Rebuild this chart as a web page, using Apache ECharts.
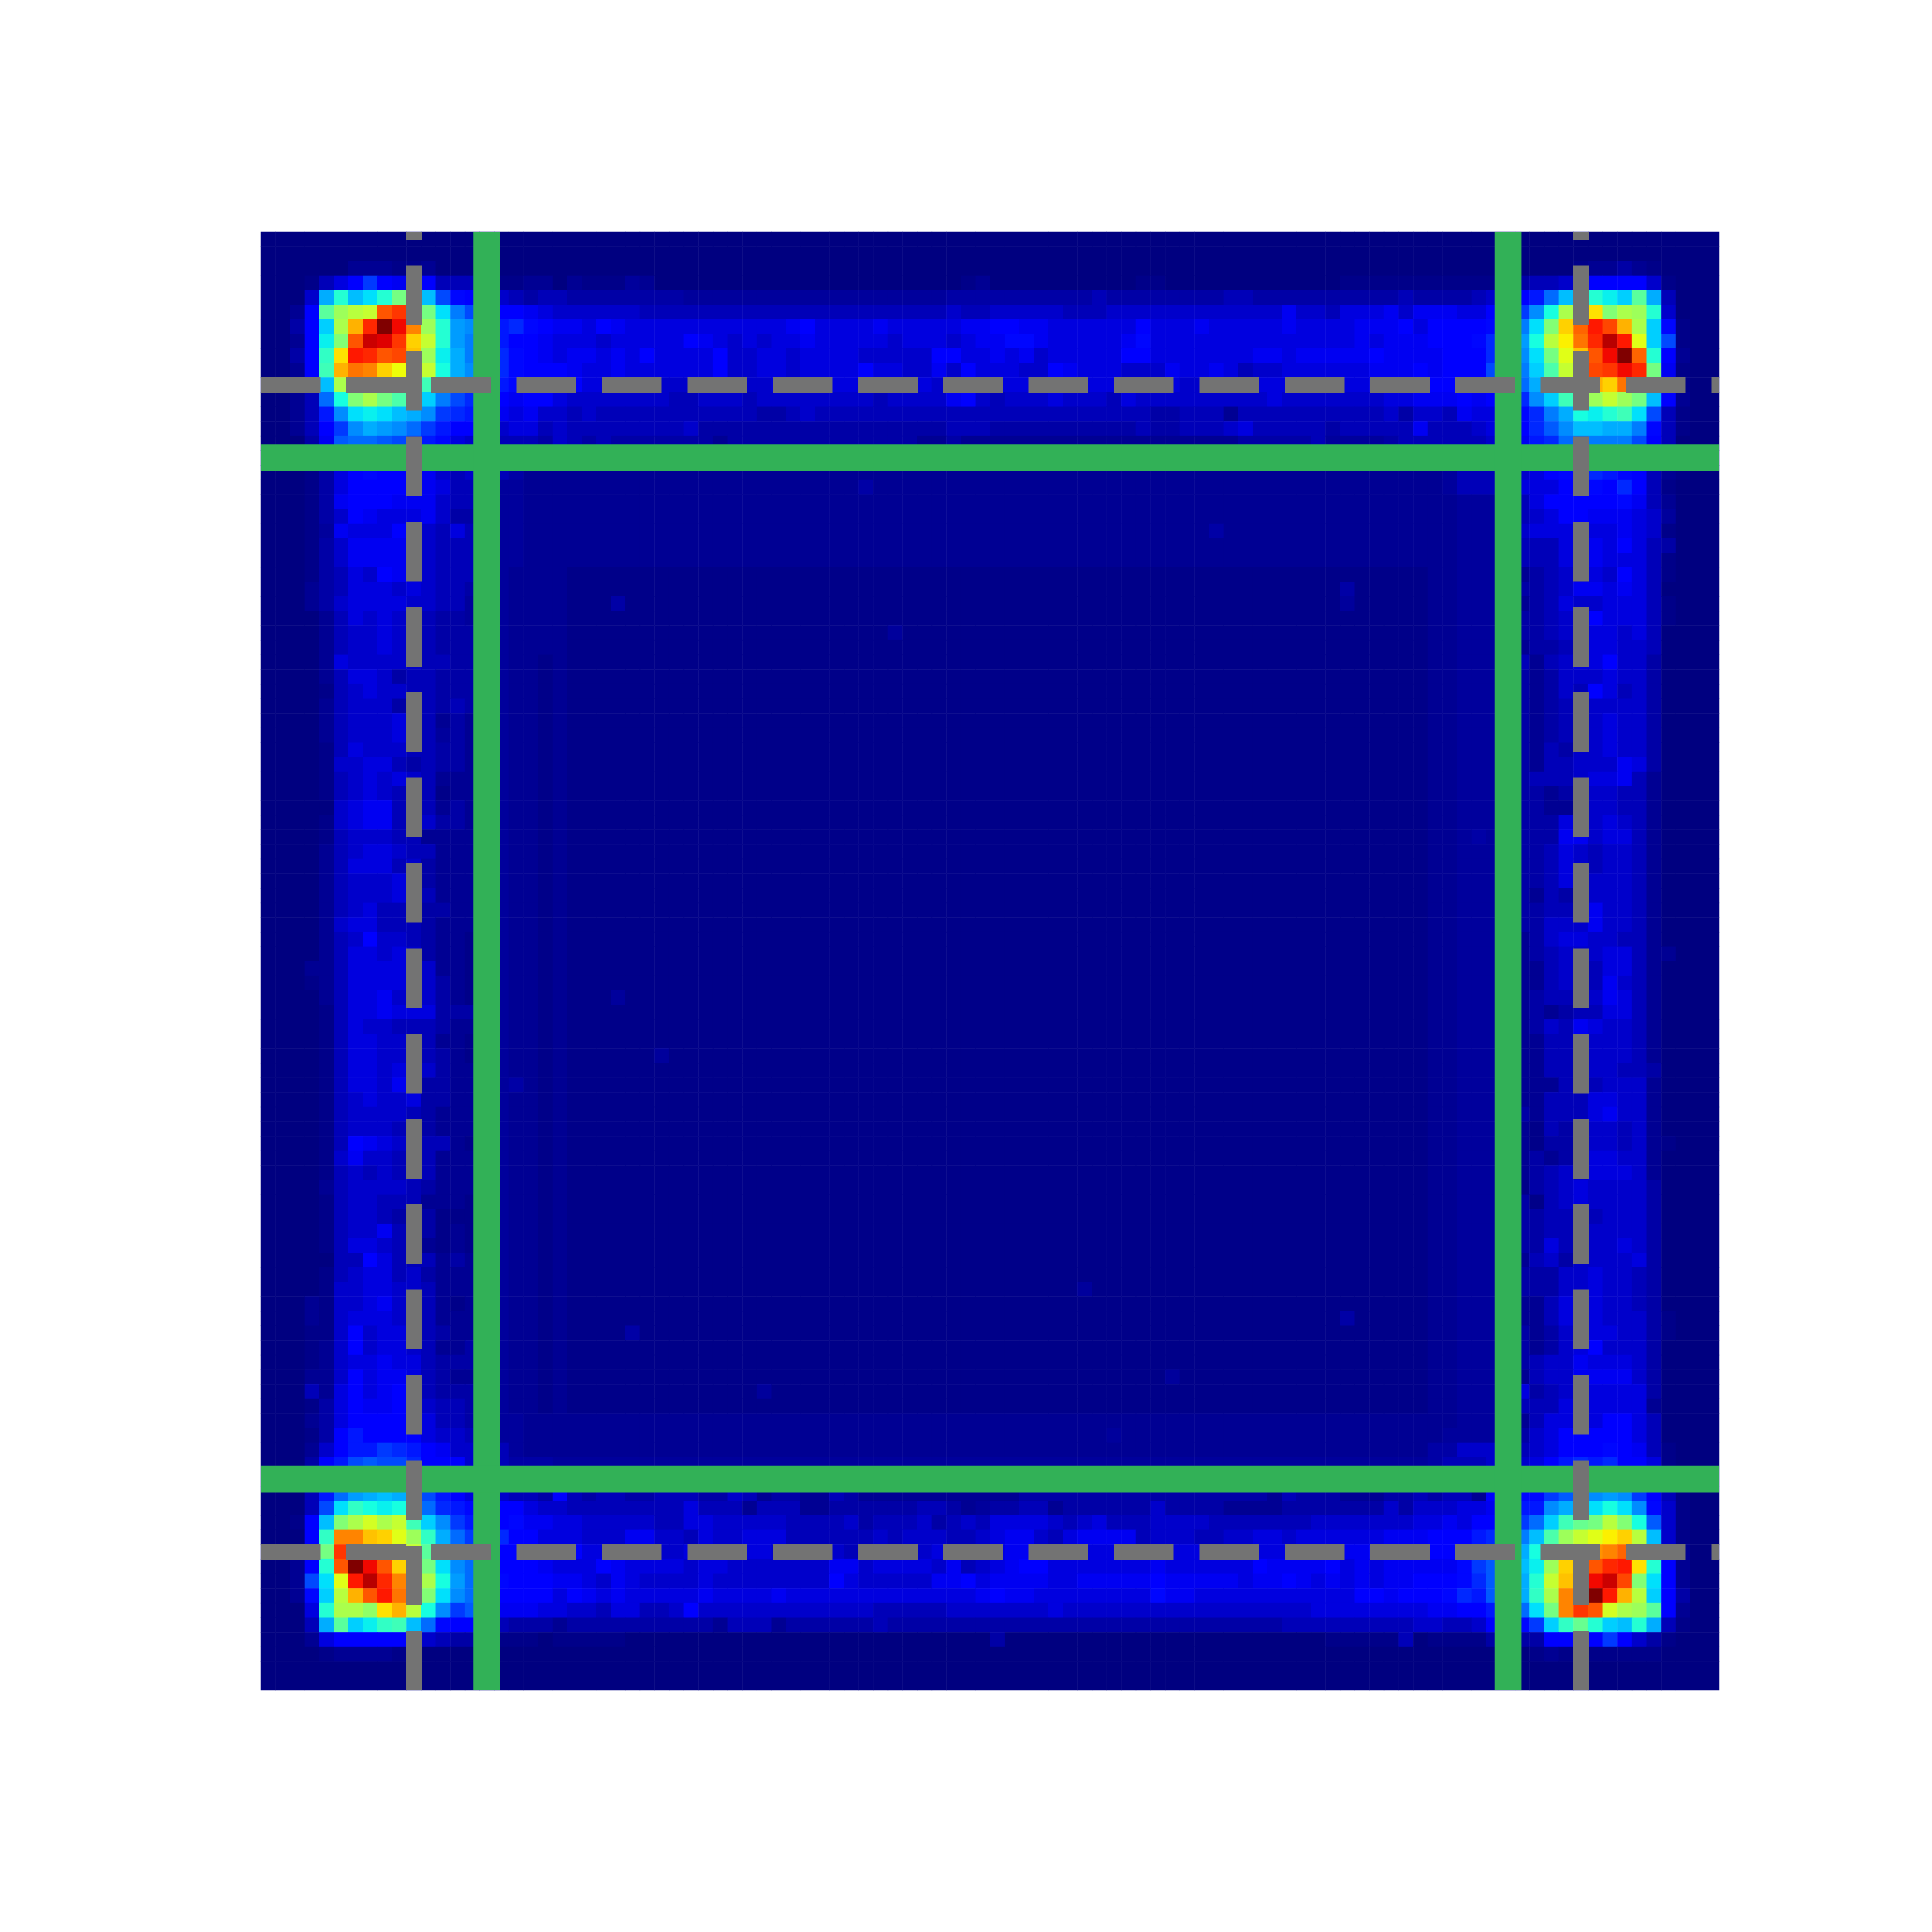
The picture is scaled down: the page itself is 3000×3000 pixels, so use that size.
<!DOCTYPE html>
<html>
<head>
<meta charset="utf-8">
<style>html,body{margin:0;padding:0;background:#fff}#c{width:3000px;height:3000px}</style>
<script src="https://cdn.jsdelivr.net/npm/echarts@6/dist/echarts.min.js"></script>
</head>
<body>
<div id="c"></div>
<script>
// Heat values, one character per cell, row by row from the top.
// 0-9 a-z A-Z stand for 0..61; '.' is 0.5 and ':' is 1.5. Spaces only aid reading.
const cellRows = [
"0000000000 0000000000 0000000000 0000000000 0000000000 0000000000 0000000000 0000000000 0000000000 0000000000",
"0000000000 0000000000 0000000000 0000000000 0000000000 0000000000 0000000000 0000000000 0000000000 0000000000",
"000000111. .100000000 0000000000 0000000000 0000000000 0000000000 0000000000 0000000000 0000000000 .1121.0000",
"000.357b76 673332..11 01...:1000 0000000000 00000000.1 0000000000 ..00000000 0000...... .....22334 677774.000",
"0004iojlou qjc8754323 322222222: :::::::::: :::::::222 2222222322 2222223322 2222222232 22234579ej momksi3000",
"0017sxzAOQ Mulfc97765 4444443333 3333333333 3333333433 4444433344 4444444444 6443555646 665578bgny CFvyxo4000",
"0027kyIRZT Lxohgb9a87 6657655555 5555556755 5565555566 7766555555 7555655555 6555566675 77778bflvG NSPIyk8.00",
"0017mvOVUQ GAohfb9776 5554555557 6545455655 5554555456 6886555556 8555555555 5555565666 7778achnzE MRWSCkc.00",
"0027pFSROP Hxmifba876 5665657555 5744554555 5444447755 6564555557 7555555566 5666667666 6777acgluC HOTZNo7100",
"0017qIMLGD CAnigba877 7655655555 5744554555 5755446475 5544765554 4465565344 5555556667 6777cdfkrA JPQTRu6.00",
"0016jyuutt sqedba9876 6755555444 5554455555 5555554455 5555555554 5554455555 5555555556 7767aceiox EIGMJu5.00",
"0013envyur pkfca97677 5444444433 4443444444 4434444674 3444544435 4444444445 4444444556 667679agkq wxAxuj7100",
"00139glmlj igba986564 4343333333 3333223433 3333333333 3333333333 3223331333 3333333424 4365588afi nmoqlc3.00",
"00137bgihg eb97764553 4333333334 2222222222 2222222333 2222222222 3223334533 3332333336 3334577adg jjiif83.00",
"00026deedc b985443332 4323222222 2122222222 2222211211 1111111111 1111111222 223::::233 33334669ae efffc73000",
"0001479abc ba87654333 3222222222 2222222222 2222222222 2222222222 2222222222 2222222222 222334568a bccba52000",
"000.257877 7643433211 1111111111 1111111111 1111111111 1111111111 1111111111 1111111111 1:33334578 9a98731.00",
"000.257777 765332::11 1111111111 1111111111 1211111111 1111111111 1111111111 1111111111 1:33345557 787a73.000",
"000.267776 664332::11 1111111111 1111111111 1111111111 1111111111 1111111111 1111111111 11:::23577 7778631000",
"000.247655 564222::11 1111111111 1111111111 1111111111 1111111111 1111111111 1111111111 11:::23457 766654:000",
"000.:65557 643532::11 1111111111 1111111111 1111111111 1111111111 1111121111 1111111111 11:::24555 555654.000",
"000.246666 543332::11 1111111111 1111111111 1111111111 1111111111 1111111111 1111111111 11:::23335 5657532000",
"000.246666 543332::11 1111111111 1111111111 1111111111 1111111111 1111111111 1111111111 11:::23335 565553.000",
"000.235476 543332:111 1......... .......... .......... .......... .......... .......... 11:::21234 554753.000",
"0001235554 543322:111 1......... .......... .......... .......... .......... ....2..... 11:::22234 6656530000",
"0001245555 4433:2:111 1...2..... .......... .......... .......... .......... ....:..... 11:::21235 445553.000",
"0000135454 4322:2:111 1......... .......... .......... .......... .......... .......... 11:::22234 575553.000",
"0000134454 432222:111 1......... .......... ...:...... .......... .......... .......... 11:::22234 5554530000",
"0000134454 432222:111 1......... .......... .......... .......... .......... .......... 11:::21223 5554430000",
"0000154444 433222:11. 1......... .......... .......... .......... .......... .......... 11:::23134 5574420000",
"0000135542 332222:11. 1......... .......... .......... .......... .......... .......... 11:::22124 4454420000",
"0000.34544 332222:11. 1......... .......... .......... .......... .......... .......... 11:::22124 3753420000",
"0000134442 332322:11. 1......... .......... .......... .......... .......... .......... 11:::22123 4444420000",
"0000134445 431212:11. 1......... .......... .......... .......... .......... .......... 11:::22123 4454420000",
"0000134445 43:212:11. 1......... .......... .......... .......... .......... .......... 11:::22123 4454420000",
"0000.35444 332212:11. 1......... .......... .......... .......... .......... .......... 11:::22132 4454420000",
"0000.44553 232212:11. 1......... .......... .......... .......... .......... .......... 11:::22133 4446520000",
"0000.34545 431112:11. 1......... .......... .......... .......... .......... .......... 11:::22333 4556310000",
"0000.34543 43.112:11. 1......... .......... .......... .......... .......... .......... 11:::22212 4443310000",
"0000045663 431212:11. 1......... .......... .......... .......... .......... .......... 11:::22211 4443310000",
"0000.45663 442212:11. 1......... .......... .......... .......... .......... .......... 11:::22225 4454310000",
"0000.34443 311112:11. 1......... .......... .......... .......... .......... .......... 11:2:22226 6455310000",
"0000134554 331112:11. 1......... .......... .......... .......... .......... .......... 11:::22235 4344310000",
"0000135553 421112:11. 1......... .......... .......... .......... .......... .......... 11:::22235 4344310000",
"0000134445 421112:11. 1......... .......... .......... .......... .......... .......... 11:::22235 4444310000",
"0000134445 431112:11. 1......... .......... .......... .......... .......... .......... 11:::22132 4444310000",
"0000134533 422112:11. 1......... .......... .......... .......... .......... .......... 11:::22233 4644310000",
"0000145533 321112:11. 1......... .......... .......... .......... .......... .......... 11:::22244 4644310000",
"0000134744 3211.2:11. 1......... .......... .......... .......... .......... .......... 11:::21245 5443310000",
"0000135545 4211.2:11. 1......... .......... .......... .......... .......... .......... 11:::21234 4455311000",
"0001135555 4411.2:11. 1......... .......... .......... .......... .......... .......... 11:::21134 4355310000",
"000.135555 4421.2:11. 1......... .......... .......... .......... .......... .......... 11:::21134 4364310000",
"0000135564 4421.2:11. 1...:..... .......... .......... .......... .......... .......... 11:::21233 3465310000",
"0000.35565 552222:11. 1......... .......... .......... .......... .......... .......... 11:::21212 3355310000",
"0000.35443 332112:11. 1......... .......... .......... .......... .......... .......... 11:::21243 6544310000",
"0000.35544 4311.2:11. 1......... .......... .......... .......... .......... .......... 11:::21133 4444310000",
"0000.35544 4321.2:11. 1......:.. .......... .......... .......... .......... .......... 11:::21133 4444310000",
"0000.35545 442112:11. 1......... .......... .......... .......... .......... .......... 11:::21133 4443320000",
"0000.35546 422112:21. 1......... .......... .......... .......... .......... .......... 11:::21113 3344410000",
"0000.34544 522112:11. 1......... .......... .......... .......... .......... .......... 11:::21133 3554410000",
"0000.34444 321112:11. 1......... .......... .......... .......... .......... .......... 11:::22133 3564410000",
"0000.34443 421112:11. 1......... .......... .......... .......... .......... .......... 11:::21.32 3443410000",
"0000.37654 4331.2:11. 1......... .......... .......... .......... .......... .......... 11:::21.22 444341.000",
"0000.46443 431112:11. 1......... .......... .......... .......... .......... .......... 11:::21212 4554410000",
"0000.34343 431112:11. 1......... .......... .......... .......... .......... .......... 11:::21234 4555410000",
"0000134444 321112:11. 1......... .......... .......... .......... .......... .......... 11:::2.234 5444420000",
"0000.34433 3111.2:11. 1......... .......... .......... .......... .......... .......... 11:::22.34 5444420000",
"0000.34432 32...2:11. 1......... .......... .......... .......... .......... .......... 11:::22233 4344420000",
"0000.34463 32.1.2:11. 1......... .......... .......... .......... .......... .......... 11:::22233 4444420000",
"0000.35543 31.1.2:11. 1......... .......... .......... .......... .......... .......... 11:::22253 4445420000",
"0000033753 331212:11. 1......... .......... .......... .......... .......... .......... 11:::21342 4444520000",
"0000.34553 421112:11. 1......... .......... .......... .......... .......... .......... 11:::22224 4544320000",
"0000.44554 431112:11. 1......... .......... .......... ......:... .......... .......... 11:::22224 4544320000",
"0001.44564 431.12:11. 1......... .......... .......... .......... .......... .......... 11:::21135 4544320000",
"0001.45554 431112:11. 1......... .......... .......... .......... .......... ....2..... 11:::21135 454442.000",
"000..47455 432112:11. 1....2.... .......... .......... .......... .......... .......... 11:::22124 555442.000",
"000.147455 431122:11. 1......... .......... .......... .......... .......... .......... 11:::22124 5744420000",
"000.145565 532222:11. 1......... .......... .......... .......... .......... .......... 11:::22344 6555420000",
"0001147566 532112:11. 1......... .......... .......... .......... ..:....... .......... 11:::21344 6666420000",
"0003157567 632222:11. 1......... ....:..... .......... .......... .......... .......... 11:::25234 6555520000",
"000.257667 643322:11. 1......... .......... .......... .......... .......... .......... 11:::23335 6555510000",
"0001257777 753322::11 1111111111 1111111111 1111111111 1111111111 1111111111 1111111111 11:::21355 6577530000",
"000.279777 754433::11 1111111111 1111111111 1111111111 11111111:1 1111111111 1111111111 1::::22457 7777530000",
"00014799ba 9764433:11 1111111111 1111111111 1111111111 1111111111 1111111111 1111111111 2244433457 778763.000",
"000279cdcc a777433222 :::::::::: :::::::::: :::::::::: :::::::::: :::::::::: :::::::::: 2333434579 a9a775.000",
"00028adeed b987654332 2222222222 2222222222 2222222222 2222222222 2222222222 2222222222 233345579a cdeda61000",
"00039ehiji dc97544332 7323322333 2243122113 2111111111 1122222222 2222222221 3222111223 23317788bd eghgb73.00",
"0003clpnmn iea9877754 4333333335 3331333112 222223321: 2233122222 2422221111 2222222424 44556799gi klnlg84.00",
"00.7jvyByA qkgb977866 5544444335 5444443333 4233342343 5555434533 3444433333 3344444445 565778bekq tuzvnd4.00",
"0007pLLHGC xpieb9a775 5544466443 5445553333 3343444334 5664356666 3444334455 4555555666 7779acfjrx ACEGzj4.00",
"0007uQTQOJ Ashea87776 5755554445 5555544444 3444445545 5665555555 5555555555 5555666666 7779acinsy EKLNJu5100",
"0017oOZTOG zulge97776 5557655554 5544444446 6455554634 5677555555 5655555576 6667565666 668bddjmxG MORSFo7100",
"001clCSWRL Cynhe98777 6654654444 5444444447 5444446675 6666556666 6766666566 7656565667 778adeioAH NTVPvl7100",
"0018kzIOSM Cvlge87777 5765655555 6555565555 5555555556 7665555555 5866555555 5555577677 78a9deipyL OZSIzk7200",
"0005oyywFI zngbd76665 5443553347 4444444444 4433333444 4444544444 4444444444 4455555555 66779beluL QOByxs7100",
"0003iskmpq je87753222 1222222222 2133312222 2232222222 2222222222 2222222222 3333333334 4334778bkp tokjoi3.00",
"0001577777 543221...0 .....00000 0000000000 0000000000 2000000000 0000000000 000.....30 ....222277 77b742.000",
"0000.1111. .000000000 0000000000 0000000000 0000000000 0000000000 0000000000 0000000000 0000000.1. ......0000",
"0000000000 0000000000 0000000000 0000000000 0000000000 0000000000 0000000000 0000000000 0000000000 0000000000",
"0000000000 0000000000 0000000000 0000000000 0000000000 0000000000 0000000000 0000000000 0000000000 0000000000"
];
const solidLinePositions = [15, 85];
const dashedLinePositions = [10, 90];
const axisExtent = [-0.5, 99.5];
const valueMax = 61;

const DIGITS = '0123456789abcdefghijklmnopqrstuvwxyzABCDEFGHIJKLMNOPQRSTUVWXYZ';
function cellValue(ch) {
  if (ch === '.') return 0.5;
  if (ch === ':') return 1.5;
  return DIGITS.indexOf(ch);
}
const rowCells = cellRows.map(r => r.replace(/ /g, ''));
rowCells.forEach((r, i) => { if (r.length !== 100) console.warn('row', i, r.length); });
const xCategories = rowCells[0].split('').map((_, i) => String(i));
const yCategories = rowCells.map((_, i) => String(i));
const heatData = [];
rowCells.forEach((r, y) => r.split('').forEach((ch, x) => heatData.push([x, y, cellValue(ch)])));

// The jet colour ramp, sampled for the visual map.
function ramp(t, pts) {
  for (let i = 1; i < pts.length; i++) {
    if (t <= pts[i][0]) {
      const a = pts[i - 1], b = pts[i];
      return a[1] + (b[1] - a[1]) * (t - a[0]) / (b[0] - a[0]);
    }
  }
  return pts[pts.length - 1][1];
}
const jetColors = [];
for (let i = 0; i <= 256; i++) {
  const t = i / 256;
  const r = ramp(t, [[0, 0], [0.35, 0], [0.66, 1], [0.89, 1], [1, 0.5]]);
  const g = ramp(t, [[0, 0], [0.125, 0], [0.375, 1], [0.64, 1], [0.91, 0], [1, 0]]);
  const b = ramp(t, [[0, 0.5], [0.11, 1], [0.34, 1], [0.65, 0], [1, 0]]);
  jetColors.push('rgb(' + Math.round(r * 255) + ',' + Math.round(g * 255) + ',' + Math.round(b * 255) + ')');
}

const GREEN = '#32b157';
const GRAY = '#737373';
const lineSeries = [];
function addLine(from, to, color, width, dash, z) {
  lineSeries.push({
    type: 'line', xAxisIndex: 1, yAxisIndex: 1, z: z, silent: true, showSymbol: false, symbol: 'none',
    animation: false, clip: true, data: [from, to],
    lineStyle: { color: color, width: width, type: dash, cap: 'butt', opacity: 1 }
  });
}
solidLinePositions.forEach(p => {
  addLine([axisExtent[0], p], [axisExtent[1], p], GREEN, 41.67, 'solid', 3);
  addLine([p, axisExtent[1]], [p, axisExtent[0]], GREEN, 41.67, 'solid', 3);
});
dashedLinePositions.forEach(p => {
  addLine([axisExtent[0], p], [axisExtent[1], p], GRAY, 25, [92.5, 40], 4);
  addLine([p, axisExtent[1]], [p, axisExtent[0]], GRAY, 25, [92.5, 40], 4);
});

const rect = { left: 405, top: 360, width: 2265, height: 2265, containLabel: false };
const chart = echarts.init(document.getElementById('c'), null, { renderer: 'canvas', width: 3000, height: 3000, devicePixelRatio: 1 });
chart.setOption({
  animation: false,
  backgroundColor: '#ffffff',
  tooltip: { show: false },
  grid: [Object.assign({}, rect), Object.assign({}, rect)],
  xAxis: [
    { type: 'category', data: xCategories, gridIndex: 0, show: false },
    { type: 'value', gridIndex: 1, min: axisExtent[0], max: axisExtent[1], show: false }
  ],
  yAxis: [
    { type: 'category', data: yCategories, gridIndex: 0, inverse: true, show: false },
    { type: 'value', gridIndex: 1, min: axisExtent[0], max: axisExtent[1], inverse: true, show: false }
  ],
  visualMap: { show: false, type: 'continuous', min: 0, max: valueMax, dimension: 2, seriesIndex: 0, inRange: { color: jetColors } },
  series: [
    { type: 'heatmap', xAxisIndex: 0, yAxisIndex: 0, data: heatData, z: 1, silent: true, progressive: 0, animation: false, emphasis: { disabled: true } }
  ].concat(lineSeries)
});
</script>
</body>
</html>
